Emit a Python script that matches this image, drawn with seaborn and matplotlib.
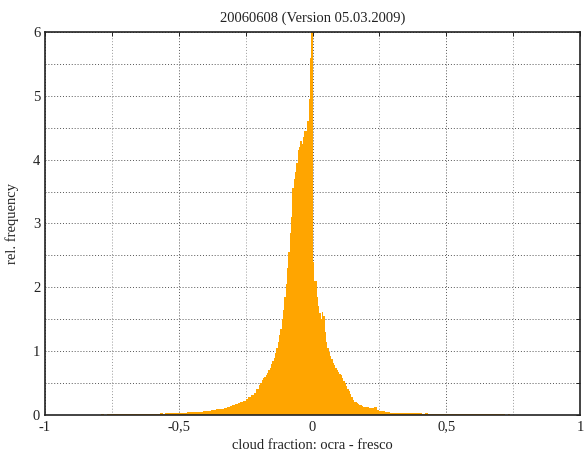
import numpy as np
import pandas as pd
import matplotlib
matplotlib.use("Agg")
import matplotlib.pyplot as plt
import seaborn as sns

# ---------------- data ----------------
# left tail: bins of width 0.01 from -1.00 to -0.20
left_tail = [
    0.003, 0.004, 0.002, 0.004, 0.003, 0.005, 0.003, 0.004, 0.005, 0.004,
    0.005, 0.004, 0.006, 0.005, 0.004, 0.006, 0.007, 0.005, 0.006, 0.007,
    0.007, 0.008, 0.006, 0.009, 0.008, 0.010, 0.009, 0.011, 0.010, 0.012,
    0.012, 0.014, 0.013, 0.015, 0.016, 0.014, 0.017, 0.018, 0.016, 0.019,
    0.020, 0.022, 0.021, 0.024, 0.023, 0.026, 0.028, 0.025, 0.030, 0.032,
    0.035, 0.038, 0.036, 0.042, 0.040, 0.045, 0.048, 0.046, 0.052, 0.055,
    0.065, 0.070, 0.078, 0.080, 0.088, 0.095, 0.100, 0.115, 0.125, 0.140,
    0.160, 0.175, 0.190, 0.205, 0.225, 0.250, 0.275, 0.310, 0.350, 0.400,
]
# centre, left half: bins of width 0.005 from -0.200 to 0.000
left_centre = [
    0.47, 0.50, 0.55, 0.58, 0.60, 0.63, 0.66, 0.70, 0.74, 0.80,
    0.85, 0.90, 0.97, 1.05, 1.15, 1.25, 1.35, 1.50, 1.65, 1.85,
    2.05, 2.30, 2.55, 2.85, 3.10, 3.55, 3.70, 3.80, 3.95, 4.15,
    4.20, 4.30, 4.25, 4.35, 4.45, 4.45, 4.60, 4.95, 5.60, 6.00,
]
# centre, right half: bins of width 0.005 from 0.000 to 0.200
right_centre = [
    2.40, 2.10, 2.10, 1.85, 1.70, 1.60, 1.50, 1.62, 1.55, 1.30,
    1.15, 1.05, 0.98, 0.92, 0.87, 0.82, 0.78, 0.74, 0.70, 0.67,
    0.65, 0.62, 0.58, 0.54, 0.50, 0.45, 0.40, 0.37, 0.33, 0.28,
    0.24, 0.21, 0.20, 0.19, 0.17, 0.16, 0.15, 0.14, 0.13, 0.125,
]
# right tail: bins of width 0.01 from 0.20 to 1.00
right_tail = [
    0.120, 0.110, 0.105, 0.120, 0.085, 0.065, 0.055, 0.048, 0.042, 0.038,
    0.035, 0.033, 0.036, 0.030, 0.032, 0.028, 0.030, 0.026, 0.027, 0.025,
    0.024, 0.022, 0.025, 0.021, 0.023, 0.020, 0.022, 0.019, 0.021, 0.020,
    0.018, 0.019, 0.016, 0.017, 0.015, 0.016, 0.014, 0.015, 0.013, 0.014,
    0.012, 0.013, 0.011, 0.012, 0.010, 0.011, 0.009, 0.010, 0.009, 0.008,
    0.008, 0.009, 0.007, 0.008, 0.007, 0.006, 0.007, 0.006, 0.006, 0.005,
    0.005, 0.006, 0.005, 0.004, 0.005, 0.004, 0.005, 0.004, 0.004, 0.003,
    0.004, 0.003, 0.004, 0.003, 0.003, 0.004, 0.003, 0.002, 0.003, 0.002,
]

x_tick_values = [-1, -0.5, 0, 0.5, 1]
x_tick_labels = ["-1", "-0,5", "0", "0,5", "1"]
y_tick_values = [0, 1, 2, 3, 4, 5, 6]
title = "20060608 (Version 05.03.2009)"
xlabel = "cloud fraction: ocra - fresco"
ylabel = "rel. frequency"

# ---------------- bins ----------------
edges = np.round(np.concatenate([
    np.linspace(-1.0, -0.2, 81)[:-1],
    np.linspace(-0.2, 0.2, 81)[:-1],
    np.linspace(0.2, 1.0, 81),
]), 4)
heights = np.array(left_tail + left_centre + right_centre + right_tail)
centres = (edges[:-1] + edges[1:]) / 2
df = pd.DataFrame({"x": centres, "w": heights})

# ---------------- plot ----------------
sns.set_style("white")
plt.rcParams["font.family"] = ["Liberation Serif", "DejaVu Serif"]

fig = plt.figure(figsize=(5.87, 4.61), dpi=100)
ax = fig.add_axes([0.0767, 0.0998, 0.9114, 0.8308])

sns.histplot(data=df, x="x", weights="w", bins=list(edges), stat="count",
             color="#FFA500", alpha=1.0, linewidth=0, element="bars",
             ax=ax, zorder=3)

ax.set_xlim(-1, 1)
ax.set_ylim(0, 6)

ax.set_xticks(x_tick_values)
ax.set_xticklabels(x_tick_labels)
ax.set_xticks([-0.75, -0.25, 0.25, 0.75], minor=True)
ax.set_yticks(y_tick_values)
ax.set_yticks(np.arange(0.5, 6, 1.0), minor=True)

ax.grid(True, which="major", linestyle=(0, (1, 2)), color="#555555",
        linewidth=0.7, zorder=0)
ax.grid(True, which="minor", axis="y", linestyle=(0, (1, 2)),
        color="#555555", linewidth=0.7, zorder=0)
ax.grid(True, which="minor", axis="x", linestyle=(0, (1, 2)),
        color="#999999", linewidth=0.7, zorder=0)
ax.set_axisbelow(True)

ax.tick_params(axis="both", which="both", direction="in", top=True,
               right=True, length=3, width=0.7, colors="#222222",
               labelsize=10.5, labelcolor="#222222")
ax.tick_params(axis="x", which="major", pad=4)
for s in ax.spines.values():
    s.set_color("#222222")
    s.set_linewidth(1.2)
    s.set_zorder(5)

ax.set_title(title, fontsize=10.5, color="#222222", pad=7)
ax.set_xlabel(xlabel, fontsize=10.5, color="#222222", labelpad=4)
ax.set_ylabel(ylabel, fontsize=10.5, color="#222222", labelpad=10)

fig.savefig("out.png", dpi=100)
